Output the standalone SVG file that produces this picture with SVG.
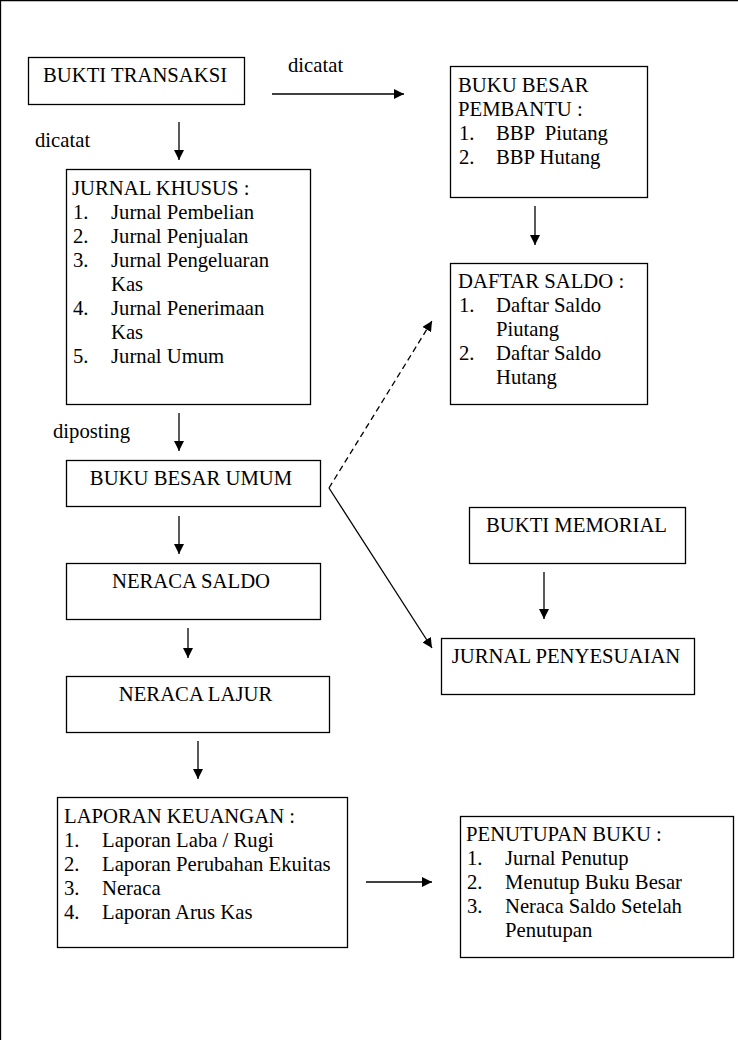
<svg xmlns="http://www.w3.org/2000/svg" width="738" height="1040" viewBox="0 0 738 1040" font-family="'Liberation Serif', 'Times New Roman', 'DejaVu Serif', serif">
<style>
.box{fill:#fff;stroke:#000;stroke-width:1.3}
text{font-family:'Liberation Serif','Times New Roman','DejaVu Serif',serif;font-size:20.7px;fill:#000}
.c{text-anchor:middle}
.ln{stroke:#000;stroke-width:1.3;fill:none}
.dash{stroke-dasharray:6 4}
</style>
<defs>
<marker id="ah" viewBox="0 0 10 10" refX="10" refY="5" markerWidth="10" markerHeight="10" markerUnits="userSpaceOnUse" orient="auto">
<path d="M0,0 L10,5 L0,10 z" fill="#000"/>
</marker>
</defs>
<rect width="738" height="1040" fill="#fff"/>
<path d="M0.5,1040 V0.5 H738" class="ln"/>
<g id="connectors">
<line x1="272" y1="94" x2="404" y2="94" class="ln" marker-end="url(#ah)"/>
<line x1="179" y1="122" x2="179" y2="160" class="ln" marker-end="url(#ah)"/>
<line x1="535" y1="206" x2="535" y2="245" class="ln" marker-end="url(#ah)"/>
<line x1="179" y1="413" x2="179" y2="451" class="ln" marker-end="url(#ah)"/>
<line x1="329" y1="488" x2="432" y2="321" class="ln dash" marker-end="url(#ah)"/>
<line x1="329" y1="488" x2="432" y2="648" class="ln" marker-end="url(#ah)"/>
<line x1="179" y1="516" x2="179" y2="554" class="ln" marker-end="url(#ah)"/>
<line x1="188" y1="628" x2="188" y2="658" class="ln" marker-end="url(#ah)"/>
<line x1="198" y1="741" x2="198" y2="779" class="ln" marker-end="url(#ah)"/>
<line x1="544" y1="572" x2="544" y2="619" class="ln" marker-end="url(#ah)"/>
<line x1="366" y1="882" x2="432" y2="882" class="ln" marker-end="url(#ah)"/>
<text x="288" y="72">dicatat</text>
<text x="35" y="147">dicatat</text>
<text x="53" y="438">diposting</text>
</g>
<g id="bukti-transaksi">
<rect x="28.5" y="57.5" width="216" height="47" class="box"/>
<text x="43" y="82">BUKTI TRANSAKSI</text>
</g>
<g id="buku-besar-pembantu">
<rect x="450.5" y="66.5" width="197" height="131" class="box"/>
<text x="458" y="92">BUKU BESAR</text>
<text x="458" y="116">PEMBANTU :</text>
<text x="459" y="140">1.</text><text x="496" y="140" xml:space="preserve">BBP  Piutang</text>
<text x="459" y="164">2.</text><text x="496" y="164">BBP Hutang</text>
</g>
<g id="jurnal-khusus">
<rect x="66.5" y="169.5" width="244" height="235" class="box"/>
<text x="72" y="195">JURNAL KHUSUS :</text>
<text x="73" y="219">1.</text><text x="111" y="219">Jurnal Pembelian</text>
<text x="73" y="243">2.</text><text x="111" y="243">Jurnal Penjualan</text>
<text x="73" y="267">3.</text><text x="111" y="267">Jurnal Pengeluaran</text>
<text x="111" y="291">Kas</text>
<text x="73" y="315">4.</text><text x="111" y="315">Jurnal Penerimaan</text>
<text x="111" y="339">Kas</text>
<text x="73" y="363">5.</text><text x="111" y="363">Jurnal Umum</text>
</g>
<g id="daftar-saldo">
<rect x="450.5" y="263.5" width="197" height="141" class="box"/>
<text x="458" y="288">DAFTAR SALDO :</text>
<text x="459" y="312">1.</text><text x="496" y="312">Daftar Saldo</text>
<text x="496" y="336">Piutang</text>
<text x="459" y="360">2.</text><text x="496" y="360">Daftar Saldo</text>
<text x="496" y="384">Hutang</text>
</g>
<g id="buku-besar-umum">
<rect x="66.5" y="460.5" width="254" height="46" class="box"/>
<text x="191" y="485" class="c">BUKU BESAR UMUM</text>
</g>
<g id="bukti-memorial">
<rect x="469.5" y="507.5" width="216" height="56" class="box"/>
<text x="576.5" y="532" class="c">BUKTI MEMORIAL</text>
</g>
<g id="neraca-saldo">
<rect x="66.5" y="563.5" width="254" height="56" class="box"/>
<text x="191" y="588" class="c">NERACA SALDO</text>
</g>
<g id="jurnal-penyesuaian">
<rect x="441.5" y="638.5" width="253" height="56" class="box"/>
<text x="566" y="663" class="c">JURNAL PENYESUAIAN</text>
</g>
<g id="neraca-lajur">
<rect x="66.5" y="676.5" width="263" height="56" class="box"/>
<text x="195.5" y="701" class="c">NERACA LAJUR</text>
</g>
<g id="laporan-keuangan">
<rect x="57.5" y="797.5" width="290" height="150" class="box"/>
<text x="64" y="823">LAPORAN KEUANGAN :</text>
<text x="64" y="847">1.</text><text x="102" y="847">Laporan Laba / Rugi</text>
<text x="64" y="871">2.</text><text x="102" y="871">Laporan Perubahan Ekuitas</text>
<text x="64" y="895">3.</text><text x="102" y="895">Neraca</text>
<text x="64" y="919">4.</text><text x="102" y="919">Laporan Arus Kas</text>
</g>
<g id="penutupan-buku">
<rect x="460.5" y="816.5" width="273" height="141" class="box"/>
<text x="466" y="841">PENUTUPAN BUKU :</text>
<text x="467" y="865">1.</text><text x="505" y="865">Jurnal Penutup</text>
<text x="467" y="889">2.</text><text x="505" y="889">Menutup Buku Besar</text>
<text x="467" y="913">3.</text><text x="505" y="913">Neraca Saldo Setelah</text>
<text x="505" y="937">Penutupan</text>
</g>
</svg>
